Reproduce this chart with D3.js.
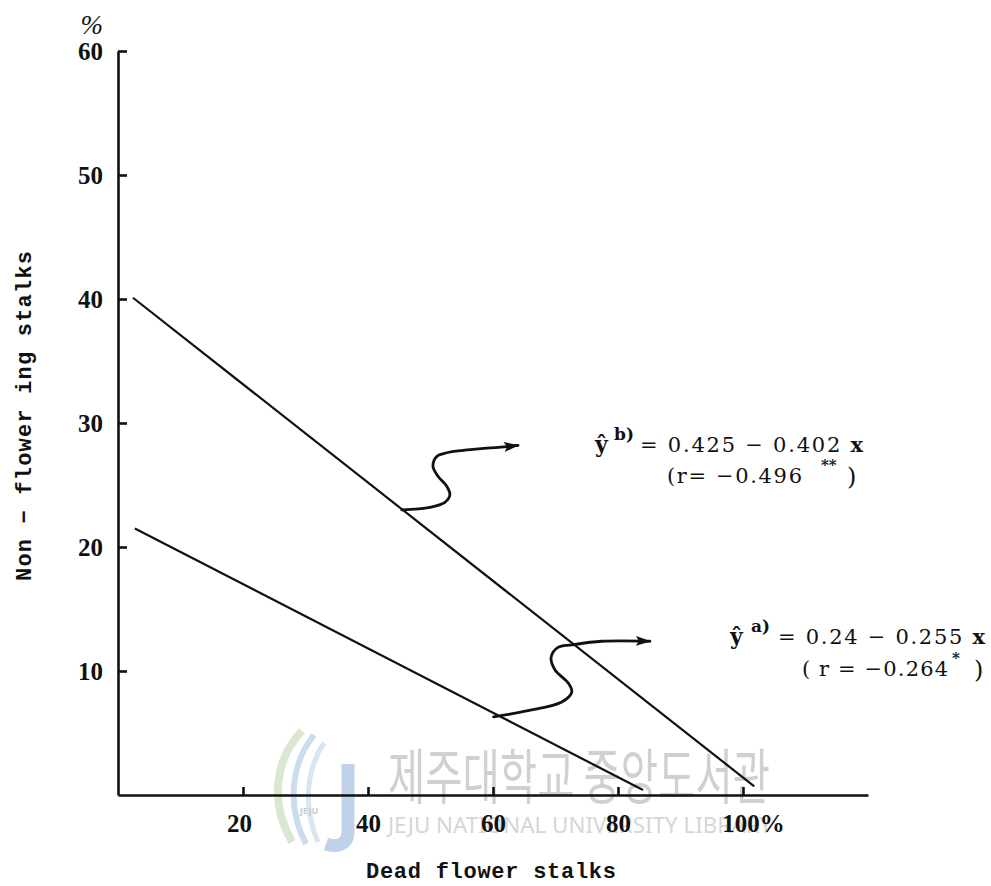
<!DOCTYPE html>
<html>
<head>
<meta charset="utf-8">
<script src="https://cdn.jsdelivr.net/npm/d3@7"></script>
<style>
  html, body { margin: 0; padding: 0; background: #fff; }
  svg { display: block; }
</style>
</head>
<body>
<svg id="chart" width="991" height="886"></svg>
<script>
// Axis ticks
const xTicks = [20, 40, 60, 80, 100];
const yTicks = [10, 20, 30, 40, 50, 60];

// Regression line a) : endpoints (dead stalks %, non-flowering %)
const lineAx = [2.7, 84.0];
const lineAy = [21.5, 0.4];
// Regression line b)
const lineBx = [2.4, 101.8];
const lineBy = [40.1, 0.7];

// Curved pointer from line b) to its equation
const arrowBx = [45.4, 49.9, 52.3, 53.1, 52.6, 51.2, 50.4, 51.0, 52.6, 55.2, 62.2, 64.0];
const arrowBy = [23.0, 23.2, 23.6, 24.2, 24.9, 25.7, 26.5, 27.3, 27.6, 27.8, 28.1, 28.2];
// Curved pointer from line a) to its equation
const arrowAx = [60.1, 65.6, 71.0, 72.6, 72.1, 69.9, 69.3, 70.4, 72.6, 77.4, 85.1];
const arrowAy = [6.3, 6.8, 7.5, 8.3, 9.0, 10.1, 11.1, 11.9, 12.1, 12.4, 12.4];

// Equation texts
const eqB = { hat: "ŷ", tag: "b)", body: "= 0.425 − 0.402 ", v: "x", r: "(r= −0.496", sig: "**" };
const eqA = { hat: "ŷ", tag: "a)", body: "= 0.24 − 0.255 ", v: "x", r: "( r = −0.264", sig: "*" };

const xLabel = "Dead flower stalks";
const yLabel = "Non − flower ing  stalks";
const yUnit = "%";
const wmKo = "제주대학교 중앙도서관";
const wmEn = "JEJU NATIONAL UNIVERSITY LIBRARY";

const svg = d3.select("#chart");
svg.append("rect").attr("width", 991).attr("height", 886).attr("fill", "#fff");

const x = d3.scaleLinear().domain([0, 120]).range([118, 868]);
const y = d3.scaleLinear().domain([0, 60]).range([795, 51]);

const serif = "'Liberation Serif', 'Times New Roman', serif";
const eqSerif = "'DejaVu Serif', 'Liberation Serif', serif";
const mono = "'Liberation Mono', 'Courier New', monospace";

// ---- library watermark (pale, beneath the plot) ----
const wm = svg.append("g").attr("class", "watermark");
wm.append("path")
  .attr("d", "M302,731 C274,760 270,804 292,842")
  .attr("fill", "none").attr("stroke", "#dbe7d1").attr("stroke-width", 8);
wm.append("path")
  .attr("d", "M314,735 C290,765 287,808 306,844")
  .attr("fill", "none").attr("stroke", "#cadcee").attr("stroke-width", 6);
wm.append("path")
  .attr("d", "M324,743 C306,770 303,808 318,842")
  .attr("fill", "none").attr("stroke", "#d9e5f1").attr("stroke-width", 5);
wm.append("path")
  .attr("d", "M348,764 L348,832 C348,844 338,848 326,844")
  .attr("fill", "none").attr("stroke", "#bfd2e9").attr("stroke-width", 13);
wm.append("text")
  .attr("x", 300).attr("y", 814).attr("font-family", "'Noto Sans', sans-serif")
  .attr("font-size", 9).attr("font-weight", "bold").attr("fill", "#cbcbcb")
  .text("JEJU");
wm.append("text")
  .attr("x", 388).attr("y", 799)
  .attr("font-family", "'Noto Sans CJK KR', sans-serif")
  .attr("font-size", 60).attr("fill", "#d0d0d0")
  .attr("textLength", 382).attr("lengthAdjust", "spacingAndGlyphs")
  .text(wmKo);
wm.append("text")
  .attr("x", 388).attr("y", 833)
  .attr("font-family", "'Noto Sans', sans-serif")
  .attr("font-size", 21).attr("fill", "#d6d6d6")
  .attr("textLength", 384).attr("lengthAdjust", "spacingAndGlyphs")
  .text(wmEn);

// ---- axes ----
const yAxis = svg.append("g")
  .attr("transform", `translate(${x(0)},0)`)
  .call(d3.axisLeft(y).tickValues(yTicks).tickSize(-9).tickSizeOuter(0).tickPadding(15));
yAxis.attr("font-family", serif).attr("font-size", 25).attr("font-weight", "bold");
yAxis.selectAll("text").attr("fill", "#111").attr("dy", "0.34em");

const xAxis = svg.append("g")
  .attr("transform", `translate(0,${y(0)})`)
  .call(d3.axisBottom(x).tickValues(xTicks).tickSize(-8).tickSizeOuter(0).tickPadding(19)
    .tickFormat(d => d === 100 ? d + "%" : d));
xAxis.attr("font-family", serif).attr("font-size", 25).attr("font-weight", "bold");
xAxis.selectAll("text").attr("fill", "#111")
  .attr("dx", d => d === 100 ? 10 : (d === 20 ? -4 : 0));

svg.selectAll(".domain, .tick line")
  .attr("stroke", "#111").attr("stroke-width", 2.6);

// unit sign above the y axis
svg.append("text")
  .attr("x", x(0) - 15).attr("y", 34)
  .attr("text-anchor", "end")
  .attr("font-family", serif).attr("font-style", "italic").attr("font-size", 27)
  .attr("fill", "#111").text(yUnit);

// axis titles
svg.append("text")
  .attr("x", 366).attr("y", 878)
  .attr("font-family", mono).attr("font-weight", "bold").attr("font-size", 22)
  .attr("textLength", 250).attr("lengthAdjust", "spacing")
  .attr("fill", "#111").text(xLabel);

svg.append("text")
  .attr("transform", "translate(31,581) rotate(-90)")
  .attr("font-family", mono).attr("font-weight", "bold").attr("font-size", 22)
  .attr("textLength", 330).attr("lengthAdjust", "spacing")
  .attr("fill", "#111").text(yLabel);

// ---- regression lines ----
const seg = d3.line().x(d => x(d[0])).y(d => y(d[1]));
svg.append("path")
  .datum(d3.zip(lineBx, lineBy))
  .attr("d", seg).attr("fill", "none").attr("stroke", "#111").attr("stroke-width", 2.2);
svg.append("path")
  .datum(d3.zip(lineAx, lineAy))
  .attr("d", seg).attr("fill", "none").attr("stroke", "#111").attr("stroke-width", 2.2);

// ---- curved pointers ----
svg.append("defs").append("marker")
  .attr("id", "head").attr("markerUnits", "userSpaceOnUse")
  .attr("markerWidth", 16).attr("markerHeight", 12)
  .attr("refX", 14).attr("refY", 6).attr("orient", "auto")
  .append("path").attr("d", "M0,1 L15,6 L0,11 L3,6 Z").attr("fill", "#111");

const curve = d3.line().x(d => x(d[0])).y(d => y(d[1])).curve(d3.curveCatmullRom.alpha(0.5));
[[arrowBx, arrowBy], [arrowAx, arrowAy]].forEach(([ax, ay]) => {
  svg.append("path")
    .datum(d3.zip(ax, ay))
    .attr("d", curve).attr("fill", "none")
    .attr("stroke", "#111").attr("stroke-width", 2.8)
    .attr("stroke-linecap", "round")
    .attr("marker-end", "url(#head)");
});

// ---- equation labels ----
function equation(eq, pos) {
  const g = svg.append("g").attr("fill", "#111").attr("font-family", eqSerif);
  g.append("text").attr("x", pos.hatX).attr("y", pos.y1).attr("font-size", 22)
    .attr("font-weight", "bold").text(eq.hat);
  g.append("text").attr("x", pos.tagX).attr("y", pos.y1 - 12).attr("font-size", 17)
    .attr("font-weight", "bold").text(eq.tag);
  const t = g.append("text").attr("x", pos.bodyX).attr("y", pos.y1).attr("font-size", 21)
    .attr("textLength", pos.bodyLen).attr("lengthAdjust", "spacing");
  t.append("tspan").text(eq.body);
  t.append("tspan").attr("font-weight", "bold").text(eq.v);
  g.append("text").attr("x", pos.rX).attr("y", pos.y2).attr("font-size", 21)
    .attr("textLength", pos.rLen).attr("lengthAdjust", "spacing").text(eq.r);
  g.append("text").attr("x", pos.sigX).attr("y", pos.y2 - 13).attr("font-size", 15)
    .attr("font-weight", "bold").text(eq.sig);
  g.append("text").attr("x", pos.closeX).attr("y", pos.y2 + 2).attr("font-size", 24).text(")");
}

equation(eqB, { hatX: 595, tagX: 614, bodyX: 640, bodyLen: 223, y1: 452,
                rX: 667, rLen: 135, y2: 483, sigX: 821, closeX: 847 });
equation(eqA, { hatX: 730, tagX: 751, bodyX: 778, bodyLen: 207, y1: 644,
                rX: 802, rLen: 146, y2: 676, sigX: 952, closeX: 974 });
</script>
</body>
</html>
